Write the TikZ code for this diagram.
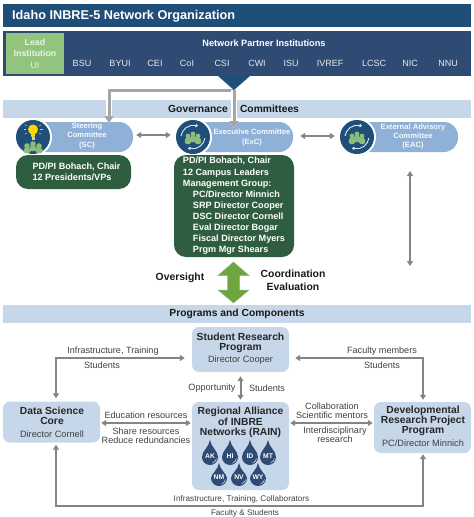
\documentclass[tikz,border=0pt]{standalone}
\usepackage{fontspec}
\setmainfont{Liberation Sans}
\usetikzlibrary{arrows.meta}
\definecolor{titleblue}{HTML}{1F4E79}
\definecolor{barblue}{HTML}{2F4B73}
\definecolor{leadgreen}{HTML}{93C47D}
\definecolor{bandblue}{HTML}{C6D7E9}
\definecolor{pillblue}{HTML}{8FB1D8}
\definecolor{darkgreen}{HTML}{2E5E3F}
\definecolor{peoplegreen}{HTML}{8DBB7B}
\definecolor{arrowgreen}{HTML}{6FA53F}
\definecolor{linkgray}{HTML}{858585}
\definecolor{feedgray}{HTML}{A6A6A6}
\definecolor{labelgray}{HTML}{404040}
\tikzset{
  >={Triangle[length=5pt,width=6pt]},
  band/.style={fill=bandblue,draw=none,minimum width=468pt,minimum height=18pt,inner sep=0pt,font=\fontsize{10.3}{12}\selectfont\bfseries,text=black!90},
  inst/.style={text=white!88!barblue,font=\fontsize{9}{10}\selectfont,inner sep=0pt},
  pill/.style={fill=pillblue,rounded corners=14pt,minimum height=30pt,inner sep=0pt},
  pilltext/.style={text=white!92!pillblue,font=\fontsize{7.6}{9.2}\selectfont\bfseries,align=center,inner sep=0pt},
  greenbox/.style={fill=darkgreen,rounded corners=12pt,text=white,align=left,inner sep=0pt,font=\fontsize{9.1}{11.1}\selectfont\bfseries},
  progbox/.style={fill=bandblue,rounded corners=7pt,inner sep=0pt},
  progtext/.style={align=center,inner sep=0pt,text=black!85,font=\fontsize{10.3}{10.2}\selectfont\bfseries},
  progsub/.style={inner sep=0pt,text=labelgray,font=\fontsize{9.2}{10}\selectfont},
  lbl/.style={inner sep=0pt,text=labelgray,font=\fontsize{9.1}{9}\selectfont,align=center},
  biglbl/.style={inner sep=0pt,text=black!90,font=\fontsize{10.4}{13}\selectfont\bfseries,align=center},
  link/.style={draw=linkgray,line width=2pt},
  feed/.style={draw=feedgray,line width=3pt,>={Triangle[length=7pt,width=9pt]},preaction={draw=white,line width=5.5pt}},
  person/.style={fill=peoplegreen,draw=none}
}
\begin{document}
\begin{tikzpicture}[x=1pt,y=-1pt]
  \useasboundingbox (0,0) rectangle (474,517);

  % HEADER
  \node[fill=titleblue,minimum width=468pt,minimum height=23pt,inner sep=0pt] (title) at (237,15.5) {};
  \node[anchor=west,inner sep=0pt,text=white,font=\fontsize{12.7}{14}\selectfont\bfseries] (titletext) at (12,16.5) {Idaho INBRE-5 Network Organization};

  % INSTITUTIONS
  \node[fill=barblue,minimum width=468pt,minimum height=45pt,inner sep=0pt] (bar) at (237,53.5) {};
  \node[fill=leadgreen,minimum width=58pt,minimum height=41pt,inner sep=0pt,text=white!80!leadgreen,align=center,font=\fontsize{8.8}{11.5}\selectfont\bfseries] (lead) at (35,53.5) {Lead\\Institution\\\mdseries UI};
  \node[inner sep=0pt,text=white,font=\fontsize{9.2}{10}\selectfont\bfseries] (partners) at (264,43) {Network Partner Institutions};
  \foreach \inst/\xx in {BSU/82,BYUI/120,CEI/155,CoI/187,CSI/222,CWI/257,ISU/291,IVREF/330,LCSC/374,NIC/410,NNU/448}
    \node[inst] (\inst) at (\xx,63) {\inst};

  % GOVERNANCE BAND
  \node[band] (govband) at (237,109) {};
  \node[inner sep=0pt,text=black!90,font=\fontsize{10.3}{12}\selectfont\bfseries] (govleft) at (198,108.5) {Governance};
  \node[inner sep=0pt,text=black!90,font=\fontsize{10.3}{12}\selectfont\bfseries] (govright) at (269.5,108.5) {Committees};

  % COMMITTEES
  \node[pill,minimum width=100pt] (sc) at (83,137) {};
  \node[pill,minimum width=100pt] (exc) at (243,137) {};
  \node[pill,minimum width=101pt] (eac) at (407.5,137) {};

  % FEED FROM THE INSTITUTIONS
  \coordinate (apex) at (234,90);
  \draw[feed,->] (apex) -| (109,123);
  \draw[feed,->] (apex) -- (234,128);
  \draw[fill=titleblue,draw=none] (218,76) -- (250,76) -- (apex) -- cycle;

  \node[pilltext] (sctext) at (87,136) {Steering\\Committee\\(SC)};
  \node[pilltext] (exctext) at (252,137.5) {Executive Committee\\(ExC)};
  \node[pilltext] (eactext) at (413,136.5) {External Advisory\\Committee\\(EAC)};

  % ICONS
  \foreach \xx/\nm in {33/scicon,193/excicon,357/eacicon}{
    \node[circle,fill=white,minimum size=38pt,inner sep=0pt] (\nm-ring) at (\xx,137) {};
    \node[circle,fill=titleblue,minimum size=34pt,inner sep=0pt] (\nm) at (\xx,137) {};
  }
  % people and round arrows
  \foreach \xx in {193,357}{
    \draw[white!75!pillblue,line width=0.9pt,-{Triangle[length=2.5pt,width=3.5pt]}] (\xx-12,136) .. controls (\xx-11,129) and (\xx-4,124) .. (\xx+5,126);
    \draw[white!75!pillblue,line width=0.9pt,-{Triangle[length=2.5pt,width=3.5pt]}] (\xx+12,138) .. controls (\xx+11,145) and (\xx+4,150) .. (\xx-5,148);
    \foreach \dx/\dy in {-5/1,5/1,0/-1}{
      \fill[person] (\xx+\dx,137+\dy-2) circle (2.4pt);
      \fill[person,rounded corners=1.5pt] (\xx+\dx-3.2,137+\dy+6) rectangle (\xx+\dx+3.2,137+\dy);
    }
  }
  % bulb
  \fill[yellow!75!orange] (33,129.5) circle (5pt);
  \fill[yellow!75!orange] (30.5,132) -- (35.5,132) -- (34.5,137) -- (31.5,137) -- cycle;
  \fill[pillblue!60!white] (31.5,137) rectangle (34.5,139.5);
  \foreach \ang in {150,180,210,330,0,30}
    \draw[yellow!75!orange,line width=0.5pt] (33,129.5) ++(\ang:7) -- ++(\ang:2.5);
  \foreach \dx/\dy in {-6/146,6/146,0/144}{
    \fill[person] (33+\dx,\dy) circle (2.8pt);
    \fill[person,rounded corners=1.5pt] (33+\dx-3.5,\dy+7) rectangle (33+\dx+3.5,\dy+2);
  }

  % GREEN BOXES
  \node[greenbox,minimum width=115pt,minimum height=34pt] (scmembers) at (73.5,172) {\hspace*{6pt}PD/PI Bohach, Chair\\\hspace*{6pt}12 Presidents/VPs};
  \node[greenbox,minimum width=120pt,minimum height=102pt] (excmembers) at (234,206) {PD/PI Bohach, Chair\\12 Campus Leaders\\Management Group:\\
    \hspace*{10pt}PC/Director Minnich\\\hspace*{10pt}SRP Director Cooper\\\hspace*{10pt}DSC Director Cornell\\\hspace*{10pt}Eval Director Bogar\\\hspace*{10pt}Fiscal Director Myers\\\hspace*{10pt}Prgm Mgr Shears};

  % COMMITTEE ARROWS
  \coordinate (eactop) at (410,171);
  \coordinate (eacbot) at (410,266);
  \draw[link,<->] ([xshift=3pt,yshift=2pt]sc.east) -- ([xshift=-3pt,yshift=2pt]excicon-ring.west);
  \draw[link,<->] ([xshift=7pt,yshift=1pt]exc.east) -- ([xshift=-3pt,yshift=1pt]eacicon-ring.west);
  \draw[link,<->,line width=1.5pt] (eactop) -- (eacbot);

  % OVERSIGHT
  \draw[fill=arrowgreen,draw=arrowgreen!75!white,line width=0.5pt] (233.5,262) -- (249,275.5) -- (239.5,275.5) -- (239.5,290) -- (249,290) -- (233.5,303) -- (218,290) -- (227.5,290) -- (227.5,275.5) -- (218,275.5) -- cycle;
  \node[biglbl] (oversight) at (180,278) {Oversight};
  \node[biglbl] (coord) at (293,280.5) {Coordination\\Evaluation};

  % PROGRAMS
  \node[band] (progband) at (237,314) {Programs and Components};
  \node[progbox,minimum width=97pt,minimum height=45pt] (srp) at (240.5,349.5) {};
  \node[progtext] (srptext) at (240.5,342.5) {Student Research\\Program};
  \node[progsub] (srpdir) at (240.5,360) {Director Cooper};
  \node[progbox,minimum width=97pt,minimum height=88pt] (rain) at (240.5,446) {};
  \node[progtext] (raintext) at (240.5,422.5) {Regional Alliance\\of INBRE\\Networks (RAIN)};
  \node[progbox,minimum width=97pt,minimum height=41pt] (dsc) at (51.5,422) {};
  \node[progtext] (dsctext) at (52,415.5) {Data Science\\Core};
  \node[progsub] (dscdir) at (52,434) {Director Cornell};
  \node[progbox,minimum width=97pt,minimum height=51pt] (drp) at (422.5,427.5) {};
  \node[progtext] (drptext) at (423,421) {Developmental\\Research Project\\Program};
  \node[progsub] (drpdir) at (423,443) {PC/Director Minnich};

  % RAIN STATES
  \foreach \st/\xx in {AK/210,HI/230,ID/250,MT/268}{
    \fill[barblue] (\xx,440) .. controls (\xx-1,447) and (\xx-8,451) .. (\xx-8,457) .. controls (\xx-8,461.5) and (\xx-4.5,465) .. (\xx,465) .. controls (\xx+4.5,465) and (\xx+8,461.5) .. (\xx+8,457) .. controls (\xx+8,451) and (\xx+1,447) .. (\xx,440) -- cycle;
    \draw[white,line width=0.4pt] (\xx+2.5,463) .. controls (\xx+5,462) and (\xx+6,460.5) .. (\xx+6.5,458.5);
    \node[inner sep=0pt,text=white,font=\fontsize{6.8}{7}\selectfont\bfseries] (\st) at (\xx,456.5) {\st};
  }
  \foreach \st/\xx in {NM/219,NV/239,WY/258}{
    \fill[barblue] (\xx,463) .. controls (\xx-1,470) and (\xx-8,474) .. (\xx-8,478) .. controls (\xx-8,482.5) and (\xx-4.5,486) .. (\xx,486) .. controls (\xx+4.5,486) and (\xx+8,482.5) .. (\xx+8,478) .. controls (\xx+8,474) and (\xx+1,470) .. (\xx,463) -- cycle;
    \draw[white,line width=0.4pt] (\xx+2.5,484) .. controls (\xx+5,483) and (\xx+6,481.5) .. (\xx+6.5,479.5);
    \node[inner sep=0pt,text=white,font=\fontsize{6.8}{7}\selectfont\bfseries] (\st) at (\xx,477.5) {\st};
  }

  % LINKS
  \draw[link,<->] ([xshift=-7pt,yshift=-8.5pt]srp.west) -| ([xshift=4.5pt,yshift=3pt]dsc.north);
  \draw[link,<->] ([xshift=6pt,yshift=-8.5pt]srp.east) -| ([xshift=0.5pt,yshift=2pt]drp.north);
  \draw[link,<->] ([yshift=-4pt]srp.south) -- ([yshift=2pt]rain.north);
  \draw[link,<->] ([xshift=1pt,yshift=-1pt]dsc.east) -- ([xshift=-1pt,yshift=23pt]rain.west);
  \draw[link,<->] ([xshift=1pt,yshift=23pt]rain.east) -- ([xshift=-1pt,yshift=4.5pt]drp.west);
  \coordinate (bottomleft) at (56,506);
  \coordinate (bottomright) at (423,506);
  \draw[link,<->] ([xshift=4.5pt,yshift=-2pt]dsc.south) -- (bottomleft) -- (bottomright) -- ([xshift=0.5pt,yshift=-1pt]drp.south);

  % LINK LABELS
  \node[lbl] (infra) at (113,351) {Infrastructure, Training};
  \node[lbl] (stuleft) at (102,365) {Students};
  \node[lbl] (faculty) at (382,351) {Faculty members};
  \node[lbl] (sturight) at (382,365) {Students};
  \node[lbl] (opp) at (212,388) {Opportunity};
  \node[lbl] (stumid) at (267,388) {Students};
  \node[lbl] (edu) at (146,415) {Education resources};
  \node[lbl,font=\fontsize{9.1}{9.5}\selectfont] (share) at (146,435.5) {Share resources\\Reduce redundancies};
  \node[lbl] (collab) at (332,411) {Collaboration\\Scientific mentors};
  \node[lbl,font=\fontsize{9.1}{8.5}\selectfont] (inter) at (335,434.5) {Interdisciplinary\\research};
  \node[lbl,font=\fontsize{8.2}{9}\selectfont] (infrabot) at (241.5,499) {Infrastructure, Training, Collaborators};
  \node[lbl,font=\fontsize{8.1}{9}\selectfont] (facbot) at (245,513) {Faculty \& Students};
\end{tikzpicture}
\end{document}
